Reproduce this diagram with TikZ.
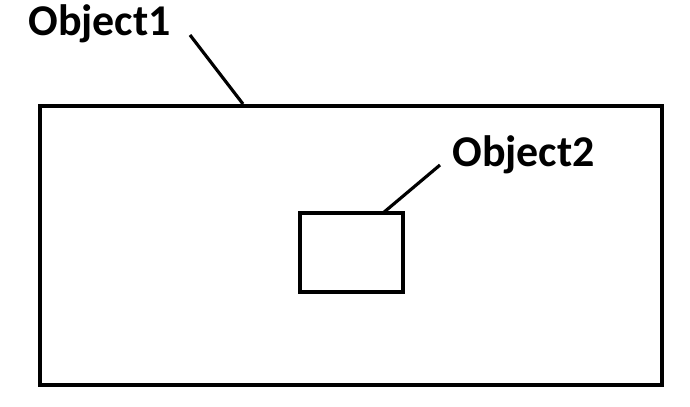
\documentclass[tikz,border=0pt]{standalone}
\usepackage{fontspec}
\setmainfont{Carlito}
\usetikzlibrary{positioning}
\tikzset{
box/.style={draw,line width=1.8pt},
leader/.style={line width=1.8pt},
label text/.style={font=\fontsize{25}{30}\selectfont\bfseries,inner sep=0pt,anchor=west}}
\begin{document}
\begin{tikzpicture}[x=0.02cm,y=-0.02cm]
\useasboundingbox (0,0) rectangle (690,406);

\draw[box] (40,106) rectangle (662,385);
\draw[box] (300,213) rectangle (403,292);

\node[label text] (obj1) at (28,24) {Object1};
\node[label text] (obj2) at (452,155) {Object2};

\coordinate (top1) at (243,104);
\coordinate (top2) at (383,213);
\coordinate (end1) at (190,35);
\coordinate (end2) at (440,165);

\draw[leader] (end1) -- (top1);
\draw[leader] (end2) -- (top2);
\end{tikzpicture}
\end{document}
